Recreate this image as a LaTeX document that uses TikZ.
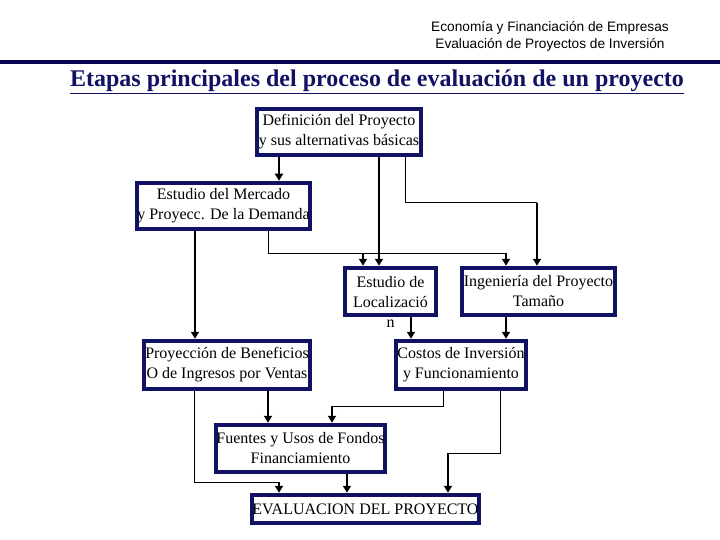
\documentclass[tikz,border=0pt]{standalone}
\usepackage{fontspec}
\setmainfont{Liberation Serif}
\newfontfamily\headfont{Liberation Sans}
\usetikzlibrary{arrows.meta}
\definecolor{navy}{RGB}{18,18,100}
\definecolor{barblue}{RGB}{8,8,80}

\begin{document}
\begin{tikzpicture}[
    x=1pt, y=-1pt,
    box/.style={draw=navy, line width=4pt, fill=white, inner sep=0pt,
                align=center, font=\fontsize{16}{20}\selectfont},
    txt/.style={inner sep=0pt, align=center, font=\fontsize{16}{20}\selectfont},
    link/.style={line width=1pt},
    arr/.style={line width=2.6pt, -{Triangle[length=7pt, width=8pt]}}
  ]
  \useasboundingbox (0,0) rectangle (720,540);

  % ---- header ----
  \node[inner sep=0pt, align=center, font=\headfont\fontsize{13.7}{17}\selectfont]
    (course) at (550,36) {Economía y Financiación de Empresas \\ Evaluación de Proyectos de Inversión};
  \fill[barblue] (0,60) rectangle (720,64.5);
  \node[anchor=base, inner sep=0pt, text=navy, font=\bfseries\fontsize{24}{28}\selectfont]
    (title) at (377,87) {\underline{Etapas principales del proceso de evaluación de un proyecto}};

  % ---- stages ----
  \node[box, minimum width=164.5, minimum height=46.5] (defin) at (339,132)
    {Definición del Proyecto \\ y sus alternativas básicas};
  \node[box, minimum width=173.5, minimum height=46.5] (mercado) at (223.5,206)
    {Estudio del Mercado \\ y Proyecc. De la Demanda};
  \node[box, minimum width=91.5, minimum height=47.5] (local) at (390.5,291.5) {};
  \node[txt] (localtxt) at (390.5,301.5) {Estudio de \\ Localizació \\ n};
  \node[box, minimum width=153.5, minimum height=47.5] (ingen) at (538.5,291.5)
    {Ingeniería del Proyecto \\ Tamaño};
  \node[box, minimum width=166.5, minimum height=48.5] (proy) at (227,365)
    {Proyección de Beneficios \\ O de Ingresos por Ventas};
  \node[box, minimum width=130.5, minimum height=48.5] (costos) at (461,365)
    {Costos de Inversión \\ y Funcionamiento};
  \node[box, minimum width=169.5, minimum height=47.5] (fuentes) at (300.5,448.5)
    {Fuentes y Usos de Fondos \\ Financiamiento};
  \node[box, minimum width=225.5, minimum height=28.5] (eval) at (365.5,509)
    {EVALUACION DEL PROYECTO};

  % ---- joints of the elbow lines ----
  \coordinate (jDI) at (537,203);
  \coordinate (jML) at (363,253);
  \coordinate (jMI) at (506,253);
  \coordinate (jPE) at (279,482);
  \coordinate (jCF) at (332,406);
  \coordinate (jCE) at (448,453);

  % ---- from the definition ----
  \draw[arr] (279,0 |- defin.south) -- (279,0 |- mercado.north);
  \draw[arr] (379,0 |- defin.south) -- (379,0 |- local.north);
  \draw[link] (405,0 |- defin.south) |- (jDI);
  \draw[arr] (jDI) -- (jDI |- ingen.north);

  % ---- from the market study ----
  \draw[arr] (195,0 |- mercado.south) -- (195,0 |- proy.north);
  \draw[link] (268,0 |- mercado.south) |- (jMI);
  \draw[arr] (jML) -- (jML |- local.north);
  \draw[arr] (jMI) -- (jMI |- ingen.north);

  % ---- into the costs ----
  \draw[arr] (411,0 |- local.south) -- (411,0 |- costos.north);
  \draw[arr] (506,0 |- ingen.south) -- (506,0 |- costos.north);

  % ---- down to the evaluation ----
  \draw[link] (194,0 |- proy.south) |- (jPE);
  \draw[arr] (jPE) -- (jPE |- eval.north);
  \draw[arr] (268,0 |- proy.south) -- (268,0 |- fuentes.north);
  \draw[link] (443,0 |- costos.south) |- (jCF);
  \draw[arr] (jCF) -- (jCF |- fuentes.north);
  \draw[link] (500,0 |- costos.south) |- (jCE);
  \draw[arr] (jCE) -- (jCE |- eval.north);
  \draw[arr] (347,0 |- fuentes.south) -- (347,0 |- eval.north);

\end{tikzpicture}
\end{document}
